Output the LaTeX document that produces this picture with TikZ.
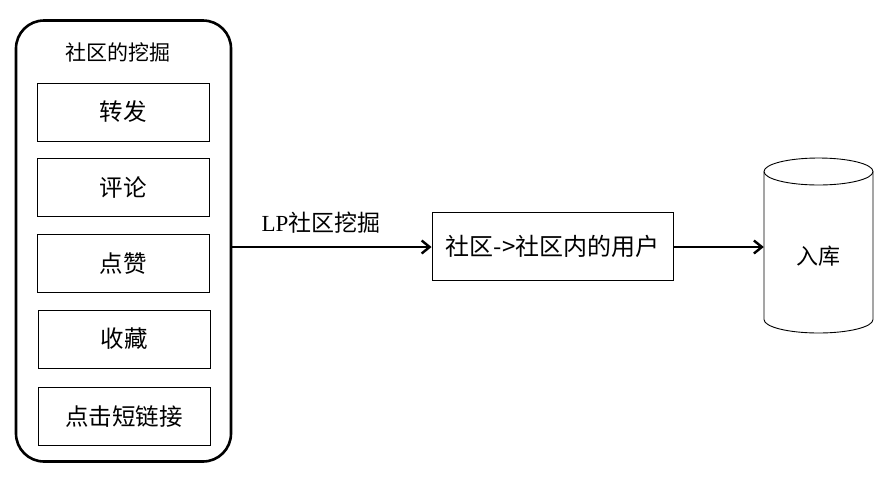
\documentclass[tikz,border=0pt]{standalone}
\usepackage{fontspec}
\setmainfont{Liberation Serif}
\newfontfamily\cjk{Noto Sans CJK SC}
\usetikzlibrary{arrows.meta}
\begin{document}
\begin{tikzpicture}[x=1pt,y=-1pt,
  itembox/.style={draw,line width=0.9pt,minimum width=172pt,minimum height=58pt,inner sep=0pt,font=\cjk\fontsize{23.5}{26}\selectfont},
  outerbox/.style={draw,line width=2.6pt,rounded corners=28pt,minimum width=215pt,minimum height=441pt,inner sep=0pt},
  flow/.style={line width=2.4pt,-{Straight Barb[length=8pt,width=13pt,line width=2.4pt]}},
  lbl/.style={font=\fontsize{23}{26}\selectfont}]
\useasboundingbox (0,0) rectangle (885,480);
\node[outerbox] (outer) at (123.5,241) {};
\node[font=\cjk\fontsize{21}{24}\selectfont] (title) at (118,52) {社区的挖掘};
\node[itembox] (b1) at (123,112) {转发};
\node[itembox] (b2) at (123,187.5) {评论};
\node[itembox] (b3) at (123,263.5) {点赞};
\node[itembox] (b4) at (124,339) {收藏};
\node[itembox] (b5) at (124,416.5) {点击短链接};
\node[draw,line width=0.9pt,minimum width=241pt,minimum height=68pt,inner sep=0pt,font=\cjk\fontsize{24}{27}\selectfont] (mid) at (552.5,246) {社区->社区内的用户};
% cylinder
\node[minimum width=109pt,minimum height=175pt,inner sep=0pt] (db) at (818.5,245.5) {};
\draw[line width=0.9pt] (764,171.5) -- (764,319.5) arc[start angle=180,end angle=0,x radius=54.5,y radius=13.5] -- (873,171.5);
\draw[line width=0.9pt] (818.5,171.5) ellipse [x radius=54.5,y radius=13.5];
\node[font=\cjk\fontsize{22}{25}\selectfont] (dbl) at (818,256) {入库};
\draw[flow] (outer.east |- 0,247) -- (mid.west |- 0,247);
\node[lbl] (lp) at (321,223) {LP{\cjk 社区挖掘}};
\draw[flow] (mid.east |- 0,247) -- (db.west |- 0,247);
\end{tikzpicture}
\end{document}
